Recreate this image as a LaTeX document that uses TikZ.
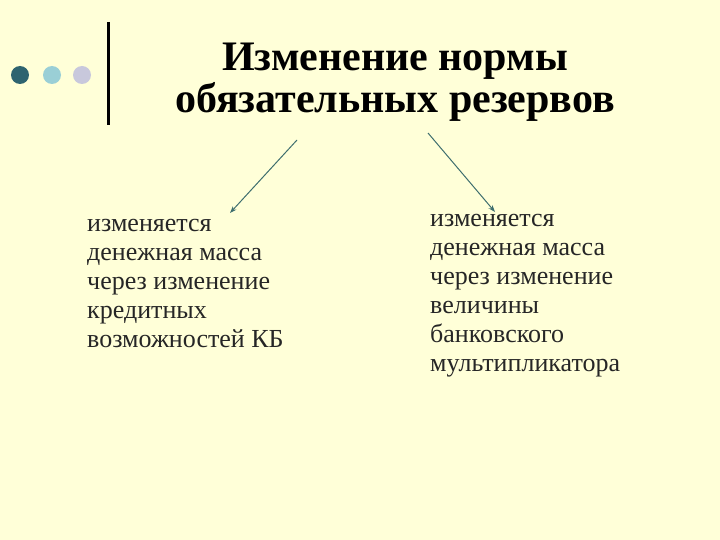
\documentclass[tikz,border=0pt]{standalone}
\usepackage{fontspec}
\setmainfont{Liberation Serif}
\definecolor{bg}{HTML}{FFFFD8}
\definecolor{d1}{HTML}{2E6470}
\definecolor{d2}{HTML}{9ACFD6}
\definecolor{d3}{HTML}{C8C8DC}
\definecolor{arr}{HTML}{3E6E6E}
\tikzset{body/.style={anchor=north west,align=left,inner sep=0pt,font=\fontsize{26}{29}\selectfont,text=black!85},
 arrowline/.style={draw=arr,line width=1pt,-{Stealth[length=7pt,width=5pt]}}}
\usetikzlibrary{arrows.meta}
\begin{document}
\begin{tikzpicture}[x=1pt,y=-1pt]
\useasboundingbox[fill=bg] (0,0) rectangle (720,540);
\fill[d1] (20,75) circle (9);
\fill[d2] (52,75) circle (9);
\fill[d3] (82,75) circle (9);
\draw[line width=3pt] (108,22) -- (108,125);
\node[align=center,font=\fontsize{42}{42}\selectfont\bfseries,inner sep=0pt] (t) at (395,82) {Изменение нормы\\обязательных резервов};
\coordinate (a1) at (297,140);
\coordinate (a2) at (428,133);
\node[body] (l) at (87,219) {изменяется\\денежная масса\\через изменение\\кредитных\\возможностей КБ};
\node[body] (r) at (430,214) {изменяется\\денежная масса\\через изменение\\величины\\банковского\\мультипликатора};
\coordinate (b1) at (230,213);
\coordinate (b2) at (495,212);
\draw[arrowline] (a1) -- (b1);
\draw[arrowline] (a2) -- (b2);
\end{tikzpicture}
\end{document}
